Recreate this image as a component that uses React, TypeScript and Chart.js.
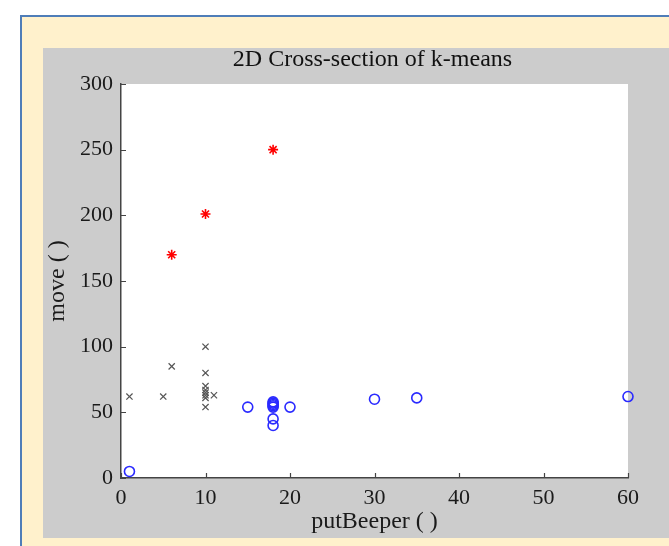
import React, { useEffect, useRef } from "react";
import { Chart, registerables } from "chart.js";

Chart.register(...registerables);

const chartTitle = "2D Cross-section of k-means";
const xTitle = "putBeeper ( )";
const yTitle = "move ( )";

// Cluster 1 (red stars)
const redX = [6, 10, 18];
const redY = [170, 201, 250];

// Cluster 2 (black crosses)
const blackX = [1, 5, 6, 10, 10, 10, 10, 10, 10, 10, 10, 11];
const blackY = [62, 62, 85, 100, 80, 70, 67, 65, 63, 61, 54, 63];

// Cluster 3 (blue circles)
const blueX = [1, 15, 18, 18, 18, 18, 18, 18, 18, 20, 30, 35, 60];
const blueY = [5, 54, 58, 57, 56, 55, 54, 45, 40, 54, 60, 61, 62];

const xTicks = [0, 10, 20, 30, 40, 50, 60];
const yTicks = [0, 50, 100, 150, 200, 250, 300];

const toPts = (xs: number[], ys: number[]) => xs.map((x, i) => ({ x, y: ys[i] }));

const FONT = '"Liberation Serif", "Times New Roman", serif';

export default function App() {
  const ref = useRef<HTMLCanvasElement>(null);
  useEffect(() => {
    document.body.style.margin = "0";
    const canvas = ref.current!;
    const deco = {
      id: "deco",
      beforeDraw(chart: any) {
        const { ctx, chartArea: a } = chart;
        ctx.save();
        ctx.fillStyle = "#ffffff";
        ctx.fillRect(a.left, a.top, a.right - a.left, a.bottom - a.top);
        ctx.restore();
      },
      afterDraw(chart: any) {
        const { ctx, chartArea: a, scales } = chart;
        ctx.save();
        ctx.strokeStyle = "#444444";
        ctx.lineWidth = 1.2;
        ctx.beginPath();
        yTicks.forEach((v) => {
          const y = Math.round(scales.y.getPixelForValue(v)) + 0.5;
          ctx.moveTo(a.left, y);
          ctx.lineTo(a.left + 5, y);
        });
        xTicks.forEach((v) => {
          const x = Math.round(scales.x.getPixelForValue(v)) + 0.5;
          ctx.moveTo(x, a.bottom);
          ctx.lineTo(x, a.bottom - 5);
        });
        ctx.stroke();
        ctx.fillStyle = "#111111";
        ctx.font = `24px ${FONT}`;
        ctx.textAlign = "center";
        ctx.textBaseline = "middle";
        ctx.fillText(chartTitle, (a.left + a.right) / 2 - 2, 60);
        ctx.restore();
      },
    };
    const chart = new Chart(canvas, {
      type: "scatter",
      data: {
        datasets: [
          {
            label: "c1",
            data: toPts(redX, redY),
            pointStyle: "star",
            radius: 5,
            borderColor: "#ff0000",
            backgroundColor: "#ff0000",
            borderWidth: 1.6,
            clip: false,
          } as any,
          {
            label: "c2",
            data: toPts(blackX, blackY),
            pointStyle: "crossRot",
            radius: 4.4,
            borderColor: "#555555",
            backgroundColor: "#555555",
            borderWidth: 1.2,
            clip: false,
          },
          {
            label: "c3",
            data: toPts(blueX, blueY),
            pointStyle: "circle",
            radius: 5,
            borderColor: "#2a2aff",
            backgroundColor: "rgba(0,0,0,0)",
            borderWidth: 1.6,
            clip: false,
          },
        ],
      },
      options: {
        animation: false,
        responsive: false,
        events: [],
        layout: { padding: { left: 0, right: 41, top: 84, bottom: 0 } },
        plugins: { legend: { display: false }, tooltip: { enabled: false }, title: { display: false } },
        scales: {
          x: {
            type: "linear",
            min: 0,
            max: 60,
            afterFit: (s: any) => {
              s.height = 68;
            },
            afterBuildTicks: (s: any) => {
              s.ticks = xTicks.map((v) => ({ value: v }));
            },
            grid: { display: false, drawTicks: false },
            border: { display: true, color: "#444444", width: 1.5 },
            ticks: { color: "#1a1a1a", padding: 7, font: { family: FONT, size: 22 }, maxRotation: 0 },
            title: { display: true, text: xTitle, color: "#1a1a1a", font: { family: FONT, size: 24 }, padding: { top: 0, bottom: 10 } },
          },
          y: {
            type: "linear",
            min: 0,
            max: 300,
            afterFit: (s: any) => {
              s.width = 121;
            },
            afterBuildTicks: (s: any) => {
              s.ticks = yTicks.map((v) => ({ value: v }));
            },
            grid: { display: false, drawTicks: false },
            border: { display: true, color: "#444444", width: 1.5 },
            ticks: { color: "#1a1a1a", padding: 8, font: { family: FONT, size: 22 } },
            title: { display: true, text: yTitle, color: "#1a1a1a", font: { family: FONT, size: 24 }, padding: { top: 43, bottom: 0 } },
          },
        },
      },
      plugins: [deco],
    } as any);
    return () => chart.destroy();
  }, []);

  return (
    <div style={{ position: "relative", width: 669, height: 546, background: "#ffffff", overflow: "hidden" }}>
      <div
        style={{
          position: "absolute",
          left: 20,
          top: 15,
          width: 700,
          height: 600,
          background: "#fff1cc",
          borderLeft: "2px solid #4f7db8",
          borderTop: "2px solid #4f7db8",
        }}
      />
      <div style={{ position: "absolute", left: 43, top: 48, width: 700, height: 490, background: "#cccccc" }} />
      <canvas ref={ref} width={669} height={546} style={{ position: "absolute", left: 0, top: 0 }} />
    </div>
  );
}
